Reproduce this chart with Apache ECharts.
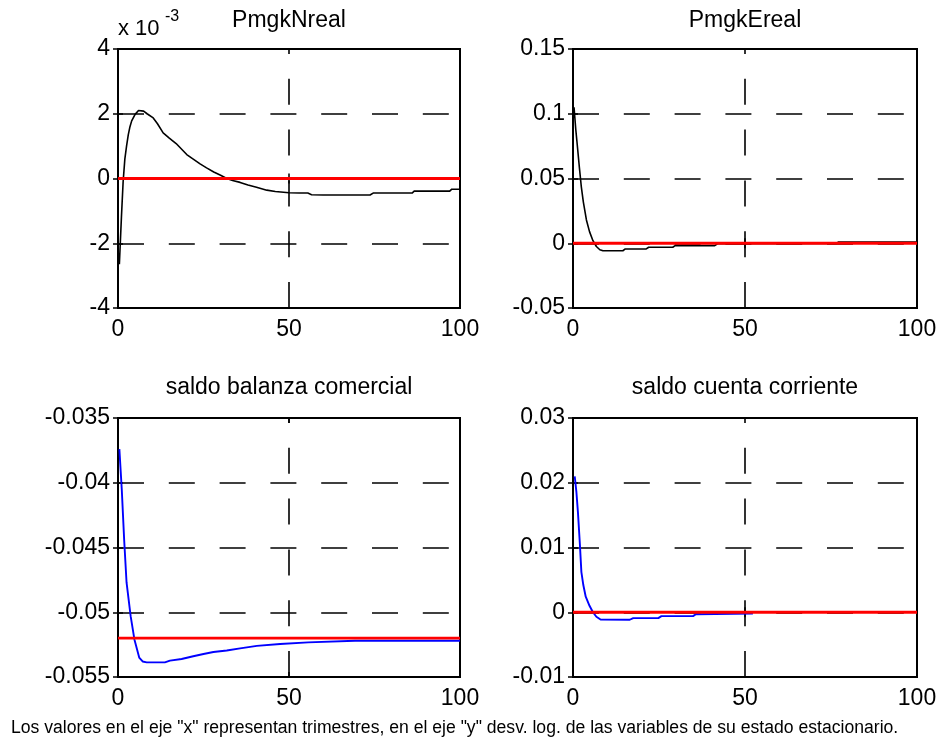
<!DOCTYPE html>
<html>
<head>
<meta charset="utf-8">
<script src="https://cdn.jsdelivr.net/npm/echarts@6/dist/echarts.min.js"></script>
<style>
  html, body { margin: 0; padding: 0; background: #fff; }
  #main { width: 940px; height: 740px; }
</style>
</head>
<body>
<div id="main"></div>
<script>
// Impulse responses: quarter index (x) and log deviation from steady state (y).

// PmgkNreal
const pmgkNx = [0.4, 1.0, 1.5, 2.0, 2.5, 3.0, 3.5, 4.0, 5.0, 6.0, 6.4, 7.5, 8.5, 10.3, 11.5, 13.2, 15, 17, 20.1, 22, 24, 25.9, 28, 30, 31.8, 33.5, 35.7, 38, 40.5, 43.5, 46, 50, 53, 55.5, 56.6, 60, 65, 70, 73.7, 74.6, 80, 86, 86.6, 90, 97, 97.6, 100];
const pmgkNy = [-0.00265, -0.0012, -0.0001, 0.0006, 0.001, 0.00135, 0.0016, 0.00178, 0.00198, 0.0021, 0.00213, 0.00208, 0.002, 0.00187, 0.0017, 0.00141, 0.00125, 0.00108, 0.00074, 0.0006, 0.00045, 0.00033, 0.0002, 0.0001, 0.0, -0.00006, -0.00012, -0.0002, -0.00027, -0.00036, -0.0004, -0.00044, -0.00045, -0.00045, -0.0005, -0.00051, -0.00051, -0.00051, -0.00051, -0.00045, -0.00045, -0.00045, -0.00039, -0.00039, -0.00039, -0.00033, -0.00033];

// PmgkEreal
const pmgkEx = [0.3, 0.8, 1.2, 1.8, 2.4, 3.0, 3.9, 4.8, 5.8, 6.8, 7.8, 8.7, 14.5, 15.2, 21.3, 22, 29, 29.7, 41.2, 42, 76.6, 77.2, 100];
const pmgkEy = [0.105, 0.088, 0.077, 0.06, 0.044, 0.032, 0.018, 0.009, 0.002, -0.0025, -0.005, -0.0058, -0.0058, -0.0044, -0.0044, -0.0031, -0.0031, -0.0018, -0.0018, -0.0004, -0.0002, 0.001, 0.001];

// saldo balanza comercial
const balanzaX = [0.4, 1.1, 1.8, 2.5, 3.7, 4.8, 6.2, 7.2, 8.4, 13.7, 15.2, 18.6, 22, 25, 27.9, 31.8, 35.7, 40.6, 47.4, 55.6, 69.3, 100];
const balanzaY = [-0.0374, -0.0405, -0.0444, -0.0477, -0.0503, -0.0521, -0.0535, -0.0538, -0.05387, -0.05387, -0.05374, -0.05361, -0.0534, -0.05322, -0.05307, -0.05295, -0.05279, -0.0526, -0.05245, -0.05233, -0.0522, -0.0522];

// saldo cuenta corriente
const cuentaX = [0.5, 1.0, 1.45, 2.0, 2.44, 3.0, 3.7, 4.8, 5.8, 6.8, 8.0, 8.5, 16.5, 17.5, 24.8, 25.7, 34.9, 35.7, 52.3];
const cuentaY = [0.021, 0.0185, 0.0153, 0.0105, 0.0062, 0.0042, 0.0024, 0.001, 0.0, -0.0007, -0.00112, -0.00116, -0.00116, -0.0009, -0.0009, -0.0006, -0.0006, -0.0003, -0.0002];

// Steady-state reference lines
const refX = [0, 100];
const refN = [0, 0];
const refE = [0, 0];
const refBalanza = [-0.0520, -0.0520];
const refCuenta = [0, 0];

// Axis ticks
const xTicks = { min: 0, max: 100, step: 50 };
const yTicksN = { min: -0.004, max: 0.004, step: 0.002 };
const yTicksE = { min: -0.05, max: 0.15, step: 0.05 };
const yTicksBalanza = { min: -0.055, max: -0.035, step: 0.005 };
const yTicksCuenta = { min: -0.01, max: 0.03, step: 0.01 };

const titles = ['PmgkNreal', 'PmgkEreal', 'saldo balanza comercial', 'saldo cuenta corriente'];
const footer = 'Los valores en el eje "x" representan trimestres, en el eje "y" desv. log. de las variables de su estado estacionario.';

const FONT = "'Liberation Sans', Arial, Helvetica, sans-serif";
const pairs = (xs, ys) => xs.map((x, i) => [x, ys[i]]);
const plain = v => String(parseFloat(v.toFixed(4)));

const panels = [
  { rect: [118, 49, 342, 259], yt: yTicksN, fmt: v => String(Math.round(v * 1000)),
    data: pairs(pmgkNx, pmgkNy), color: '#000', width: 1.6, ref: pairs(refX, refN) },
  { rect: [573, 49, 344, 259], yt: yTicksE, fmt: plain,
    data: pairs(pmgkEx, pmgkEy), color: '#000', width: 1.6, ref: pairs(refX, refE) },
  { rect: [118, 418, 342, 259], yt: yTicksBalanza, fmt: plain,
    data: pairs(balanzaX, balanzaY), color: '#0000ff', width: 1.9, ref: pairs(refX, refBalanza) },
  { rect: [573, 418, 344, 259], yt: yTicksCuenta, fmt: plain,
    data: pairs(cuentaX, cuentaY), color: '#0000ff', width: 1.9, ref: pairs(refX, refCuenta) }
];

const grid = [], xAxis = [], yAxis = [], series = [], graphic = [];
const tick = { inside: true, length: 5, lineStyle: { color: '#000', width: 1.5 } };
const label = { color: '#000', fontSize: 23, fontFamily: FONT };
const DASH = [26, 24.8];

panels.forEach((p, i) => {
  const [l, t, w, h] = p.rect;
  grid.push({ left: l, top: t, width: w, height: h, show: true, borderColor: '#000', borderWidth: 2, backgroundColor: '#fff' });
  // dashes of the vertical grid line run up from the bottom edge
  const vOffset = DASH[0] - (h % (DASH[0] + DASH[1]));
  xAxis.push({
    gridIndex: i, type: 'value', position: 'bottom', min: xTicks.min, max: xTicks.max, interval: xTicks.step,
    axisLine: { show: false }, axisTick: tick,
    axisLabel: Object.assign({ margin: 10 }, label),
    splitLine: { show: true, showMinLine: false, showMaxLine: false,
      lineStyle: { color: '#000', width: 1.6, type: DASH, dashOffset: vOffset } }
  });
  xAxis.push({
    gridIndex: i, type: 'value', position: 'top', min: xTicks.min, max: xTicks.max, interval: xTicks.step,
    axisLine: { show: false }, axisTick: tick, axisLabel: { show: false }, splitLine: { show: false }
  });
  yAxis.push({
    gridIndex: i, type: 'value', position: 'left', min: p.yt.min, max: p.yt.max, interval: p.yt.step,
    axisLine: { show: false }, axisTick: tick,
    axisLabel: Object.assign({ margin: 8, formatter: p.fmt }, label),
    splitLine: { show: true, showMinLine: false, showMaxLine: false,
      lineStyle: { color: '#000', width: 1.6, type: DASH } }
  });
  yAxis.push({
    gridIndex: i, type: 'value', position: 'right', min: p.yt.min, max: p.yt.max, interval: p.yt.step,
    axisLine: { show: false }, axisTick: tick, axisLabel: { show: false }, splitLine: { show: false }
  });
  series.push({
    type: 'line', xAxisIndex: 2 * i, yAxisIndex: 2 * i, data: p.data, showSymbol: false,
    lineStyle: { color: p.color, width: p.width }, z: 3
  });
  series.push({
    type: 'line', xAxisIndex: 2 * i, yAxisIndex: 2 * i, data: p.ref, showSymbol: false,
    lineStyle: { color: '#ff0000', width: 2.9 }, z: 4
  });
  graphic.push({
    type: 'text', x: l + w / 2, y: i < 2 ? 21 : 388,
    style: { text: titles[i], font: '23px ' + FONT, fill: '#000', align: 'center', verticalAlign: 'middle' }
  });
});

// scale factor note above the first panel
graphic.push({ type: 'text', x: 118, y: 29,
  style: { text: 'x 10', font: '22px ' + FONT, fill: '#000', align: 'left', verticalAlign: 'middle' } });
graphic.push({ type: 'text', x: 165, y: 17,
  style: { text: '-3', font: '16px ' + FONT, fill: '#000', align: 'left', verticalAlign: 'middle' } });

graphic.push({ type: 'text', x: 11, y: 728,
  style: { text: footer, font: '17.6px ' + FONT, fill: '#000', align: 'left', verticalAlign: 'middle' } });

const chart = echarts.init(document.getElementById('main'), null, { renderer: 'canvas' });
chart.setOption({
  animation: false,
  backgroundColor: '#fff',
  grid, xAxis, yAxis, series, graphic
});
</script>
</body>
</html>
